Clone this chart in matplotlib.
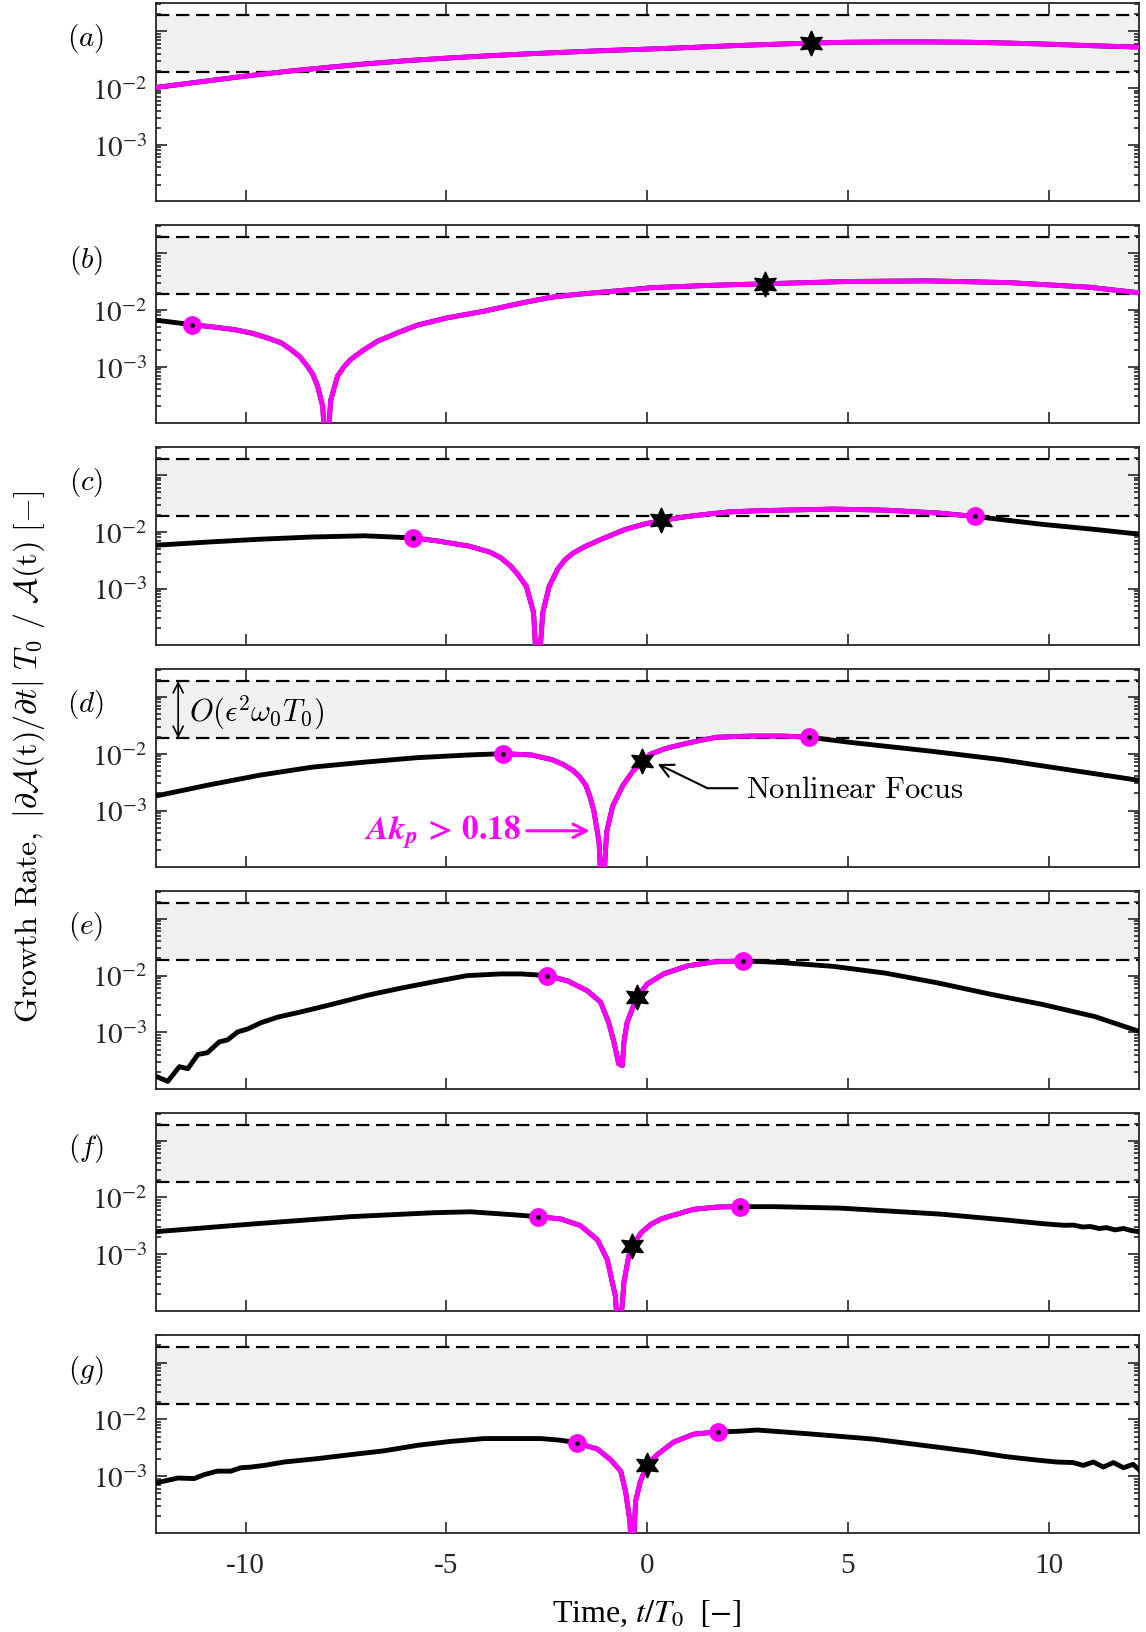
import numpy as np
import matplotlib.pyplot as plt
from matplotlib.ticker import LogLocator, NullFormatter

plt.rcParams['font.family'] = ['Liberation Serif', 'DejaVu Serif']
plt.rcParams['mathtext.fontset'] = 'cm'

# growth rate per panel (t/T0, rate)
t_a = [-12.24, -11, -10, -9, -8, -7, -6, -5, -4, -3, -2, -1, 0, 1, 2, 3, 4.07, 5, 6, 7, 8, 9, 10, 11, 12.24]
g_a = [0.0102, 0.0132, 0.0162, 0.0195, 0.0229, 0.0266, 0.0302, 0.0335, 0.0367, 0.0398, 0.0427, 0.0457, 0.0483,
       0.0513, 0.0550, 0.0582, 0.0617, 0.0638, 0.0646, 0.0646, 0.0638, 0.0617, 0.0589, 0.0556, 0.0525]

t_b = [-12.24, -11.34, -10.8, -10.28, -9.85, -9.45, -9.1, -8.87, -8.65, -8.46, -8.33, -8.21, -8.08, -8.0,
       -7.88, -7.71, -7.55, -7.38, -7.05, -6.72, -6.2, -5.72, -5.0, -4.06, -3.2, -2.41, -1.8, -1.16, -0.5, 0.08,
       1.5, 2.94, 5, 7, 9, 11, 12.24]
g_b = [0.0066, 0.0055, 0.0050, 0.0045, 0.0039, 0.0032, 0.0026, 0.0020, 0.0015, 0.00102, 7.4e-4, 4.6e-4, 2.0e-4,
       2e-5, 2.6e-4, 6.9e-4, 0.0010, 0.00135, 0.0020, 0.0028, 0.0040, 0.0054, 0.0072, 0.0095, 0.0129, 0.0166,
       0.0186, 0.0204, 0.0224, 0.0245, 0.0269, 0.0288, 0.0316, 0.0324, 0.0302, 0.0251, 0.0200]

t_c = [-12.24, -10.94, -9.64, -8.34, -7.04, -5.82, -5.22, -4.44, -4.15, -3.92, -3.65, -3.40, -3.2, -3.01, -2.83,
       -2.73, -2.60, -2.44, -2.23, -2.05, -1.85, -1.55, -1.20, -0.9, -0.55, -0.1, 0.34, 1.01, 1.5, 2.05, 2.7,
       3.35, 4.65, 5.95, 7.25, 8.16, 9.85, 11.15, 12.24]
g_c = [0.0058, 0.0066, 0.0074, 0.0081, 0.0085, 0.0078, 0.0069, 0.0056, 0.0049, 0.0044, 0.0035, 0.0025, 0.0017,
       0.0011, 3.8e-4, 2e-5, 3.8e-4, 0.0011, 0.0022, 0.0032, 0.0042, 0.0055, 0.0071, 0.0087, 0.0110, 0.0135,
       0.0158, 0.0186, 0.0204, 0.0224, 0.0234, 0.0240, 0.0251, 0.0240, 0.0214, 0.0186, 0.0135, 0.0110, 0.0091]

t_d = [-12.24, -10.94, -9.64, -8.34, -7.04, -5.74, -4.44, -3.59, -2.88, -2.36, -2.1, -1.85, -1.68, -1.53, -1.42,
       -1.33, -1.20, -1.12, -1.01, -0.86, -0.60, -0.34, -0.10, 0.08, 0.45, 0.91, 1.3, 1.74, 2.57, 3.4, 4.03,
       5.06, 7.0, 8.79, 10.5, 12.24]
g_d = [0.0018, 0.0028, 0.0042, 0.0058, 0.0071, 0.0085, 0.0095, 0.0100, 0.0095, 0.0078, 0.0065, 0.0051, 0.0039,
       0.0028, 0.0017, 0.0010, 2.8e-4, 2e-5, 4.2e-4, 0.0012, 0.0028, 0.0051, 0.0073, 0.0098, 0.0123, 0.0148,
       0.0170, 0.0195, 0.0204, 0.0204, 0.0195, 0.0158, 0.0112, 0.0079, 0.0052, 0.0034]

t_e = [-12.24, -11.94, -11.65, -11.44, -11.19, -10.95, -10.66, -10.45, -10.20, -9.95, -9.62, -9.20, -8.62, -7.79,
       -6.97, -6.14, -5.31, -4.48, -3.65, -3.14, -2.49, -1.99, -1.49, -1.16, -0.96, -0.83, -0.71, -0.62, -0.58,
       -0.50, -0.37, -0.25, 0.0, 0.41, 1.0, 1.66, 2.39, 3.32, 4.65, 5.95, 7.25, 8.55, 9.85, 11.15, 12.24]
g_e = [1.7e-4, 1.38e-4, 2.5e-4, 2.3e-4, 4.1e-4, 4.4e-4, 6.8e-4, 7.4e-4, 1.02e-3, 1.15e-3, 1.48e-3, 1.86e-3,
       2.3e-3, 3.2e-3, 4.5e-3, 6.0e-3, 7.8e-3, 0.0100, 0.0107, 0.0107, 0.0100, 0.0081, 0.0054, 0.0034, 0.0015,
       6.8e-4, 2.8e-4, 2.6e-4, 6.8e-4, 0.0015, 0.0026, 0.0042, 0.0071, 0.0107, 0.0148, 0.0174, 0.0182, 0.0170,
       0.0145, 0.0110, 0.0074, 0.0047, 0.0031, 0.0019, 0.00105]

t_f = [-12.24, -9.87, -7.38, -5.31, -4.40, -3.57, -3.23, -2.71, -2.16, -1.66, -1.24, -0.995, -0.79, -0.71, -0.58,
       -0.46, -0.37, -0.15, 0.1, 0.35, 0.66, 1.16, 1.74, 2.30, 3.15, 4.81, 7.30, 8.96, 9.78, 10.1, 10.4, 10.61,
       10.85, 11.03, 11.25, 11.44, 11.65, 11.86, 12.05, 12.24]
g_f = [0.0025, 0.0034, 0.0046, 0.0054, 0.0056, 0.0051, 0.0049, 0.0046, 0.0042, 0.0032, 0.0018, 8.1e-4, 1.8e-4,
       2e-5, 3.2e-4, 9.3e-4, 0.0014, 0.0024, 0.0034, 0.0042, 0.0049, 0.0062, 0.0068, 0.0069, 0.0069, 0.0065,
       0.0051, 0.0040, 0.0035, 0.00335, 0.00324, 0.00327, 0.00302, 0.00309, 0.00285, 0.00295, 0.00269, 0.00285,
       0.00263, 0.0025]

t_g = [-12.24, -11.69, -11.28, -11.03, -10.70, -10.37, -10.12, -9.87, -9.54, -9.04, -8.21, -7.38, -6.55, -5.72,
       -4.89, -4.06, -3.57, -3.23, -2.65, -2.16, -1.76, -1.24, -0.91, -0.66, -0.54, -0.43, -0.37, -0.29, -0.17,
       0.0, 0.25, 0.66, 1.16, 1.49, 1.76, 2.32, 2.74, 3.98, 5.64, 7.30, 8.12, 8.96, 9.78, 10.2, 10.61, 10.86,
       11.11, 11.36, 11.61, 11.86, 12.1, 12.24]
g_g = [7.6e-4, 9.3e-4, 9.1e-4, 1.07e-3, 1.23e-3, 1.23e-3, 1.41e-3, 1.45e-3, 1.55e-3, 1.78e-3, 2.04e-3, 2.4e-3,
       2.8e-3, 3.5e-3, 4.1e-3, 4.6e-3, 4.6e-3, 4.6e-3, 4.6e-3, 4.3e-3, 3.9e-3, 3.0e-3, 1.95e-3, 1.23e-3, 5.5e-4,
       1.6e-4, 2e-5, 3.6e-4, 8.1e-4, 1.6e-3, 2.4e-3, 4.0e-3, 5.5e-3, 5.8e-3, 6.0e-3, 6.2e-3, 6.5e-3, 5.6e-3,
       4.5e-3, 3.2e-3, 2.7e-3, 2.2e-3, 1.9e-3, 1.78e-3, 1.74e-3, 1.55e-3, 1.78e-3, 1.45e-3, 1.74e-3, 1.41e-3,
       1.62e-3, 1.32e-3]

# magenta part (Ak_p > 0.18), bounded by the circle markers
seg_a = (-12.24, 12.24)
seg_b = (-11.34, 12.24)
seg_c = (-5.82, 8.16)
seg_d = (-3.59, 4.03)
seg_e = (-2.49, 2.39)
seg_f = (-2.71, 2.30)
seg_g = (-1.76, 1.76)

# nonlinear focus (hexagram)
star_t = [4.07, 2.94, 0.34, -0.12, -0.25, -0.37, 0.0]
star_g = [0.0622, 0.0288, 0.0158, 0.0075, 0.0042, 0.0014, 0.0016]

band = (0.0188, 0.19)
panel_labels = ['a', 'b', 'c', 'd', 'e', 'f', 'g']

series = [(t_a, g_a, seg_a), (t_b, g_b, seg_b), (t_c, g_c, seg_c), (t_d, g_d, seg_d),
          (t_e, g_e, seg_e), (t_f, g_f, seg_f), (t_g, g_g, seg_g)]

MAG = '#ff00ff'
SPINE = '#262626'
W, H = 1146, 1633
fig = plt.figure(figsize=(W / 100, H / 100), dpi=100)

axes = []
for i, (t, g, seg) in enumerate(series):
    top = 4.2 + 221.9 * i
    ax = fig.add_axes([155.7 / W, 1 - (top + 198) / H, 983 / W, 198 / H])
    axes.append(ax)
    t = np.array(t)
    g = np.array(g)

    ax.axhspan(band[0], band[1], color='#f0f0f0', lw=0, zorder=0)
    for yv in band:
        ax.axhline(yv, color='k', lw=1.6, dashes=(6, 3.0), zorder=1)

    ax.plot(t, g, color='k', lw=3.5, zorder=3, solid_joinstyle='round')
    m = (t >= seg[0]) & (t <= seg[1])
    ax.plot(t[m], g[m], color=MAG, lw=3.5, zorder=4, solid_joinstyle='round')
    for s in seg:
        if abs(s) < 12.2:
            k = np.argmin(np.abs(t - s))
            ax.plot(t[k], g[k], 'o', ms=12.5, mfc=MAG, mec=MAG, zorder=5)
            ax.plot(t[k], g[k], 'o', ms=2.4, color='k', zorder=6)
    ax.plot(star_t[i], star_g[i], marker=(6, 1, 0), ms=18, color='k', lw=0, zorder=7)

    ax.set_yscale('log')
    ax.set_xlim(-12.24, 12.24)
    ax.set_ylim(1.02e-4, 0.31)
    ax.set_xticks([-10, -5, 0, 5, 10])
    ax.set_yticks([1e-3, 1e-2, 1e-1])
    ax.set_yticklabels([r'$10^{-3}$', r'$10^{-2}$', ''], math_fontfamily='stix', fontsize=21, color=SPINE)
    ax.yaxis.set_minor_locator(LogLocator(base=10, subs=np.arange(2, 10), numticks=20))
    ax.yaxis.set_minor_formatter(NullFormatter())
    ax.tick_params(which='both', direction='in', top=True, right=True, color=SPINE, width=1.2)
    ax.tick_params(axis='x', which='major', length=8, pad=14, labelsize=21, labelcolor=SPINE)
    ax.tick_params(axis='y', which='major', length=8, pad=6)
    ax.tick_params(axis='y', which='minor', length=3.8)
    for sp in ax.spines.values():
        sp.set_color(SPINE)
        sp.set_linewidth(1.3)
    if i < 6:
        ax.set_xticklabels([])
    else:
        ax.set_xticklabels(['-10', '-5', '0', '5', '10'])

    ax.text(-0.071, 0.825, r'$(%s)$' % panel_labels[i], transform=ax.transAxes,
            ha='center', va='center', fontsize=21)

# annotations on panel (d)
axd = axes[3]
axd.annotate('', xy=(-11.68, band[1]), xytext=(-11.68, band[0]),
             arrowprops=dict(arrowstyle='<->', color='k', lw=1.2, shrinkA=0, shrinkB=0, mutation_scale=18))
axd.text(-11.4, 0.054, r'$O(\epsilon^2\omega_0 T_0)$', ha='left', va='center', fontsize=22)
axd.annotate('', xy=(-1.43, 4.4e-4), xytext=(-3.0, 4.4e-4),
             arrowprops=dict(arrowstyle='->', color=MAG, lw=2.2, shrinkA=0, shrinkB=0, mutation_scale=24))
axd.text(-3.15, 4.4e-4, r'$\mathbfit{Ak_p}\,\mathbf{>}\,\mathbf{0.18}$', ha='right', va='center',
         fontsize=24, color=MAG, math_fontfamily='stix')
axd.annotate('', xy=(1.50, 2.47e-3), xytext=(2.25, 2.47e-3),
             arrowprops=dict(arrowstyle='-', color='k', lw=1.5, shrinkA=0, shrinkB=0))
axd.annotate('', xy=(0.26, 6.6e-3), xytext=(1.50, 2.47e-3),
             arrowprops=dict(arrowstyle='->', color='k', lw=1.5, shrinkA=0, shrinkB=0, mutation_scale=24))
axd.text(2.45, 2.3e-3, r'$\mathrm{Nonlinear\ Focus}$', ha='left', va='center', fontsize=22)

fig.text(29 / W, 1 - 757 / H,
         r'$\mathrm{Growth\ Rate,}\ |\partial\mathcal{A}(\mathrm{t})/\partial t|\ T_0\ /\ \mathcal{A}(\mathrm{t})\ [-]$',
         rotation=90, ha='center', va='center', fontsize=23)
fig.text(647 / W, 1 - 1614 / H, r'Time, $t/T_0\ \ [-]$', ha='center', va='center', fontsize=23,
         math_fontfamily='stix')

fig.savefig('out.png', dpi=100)
